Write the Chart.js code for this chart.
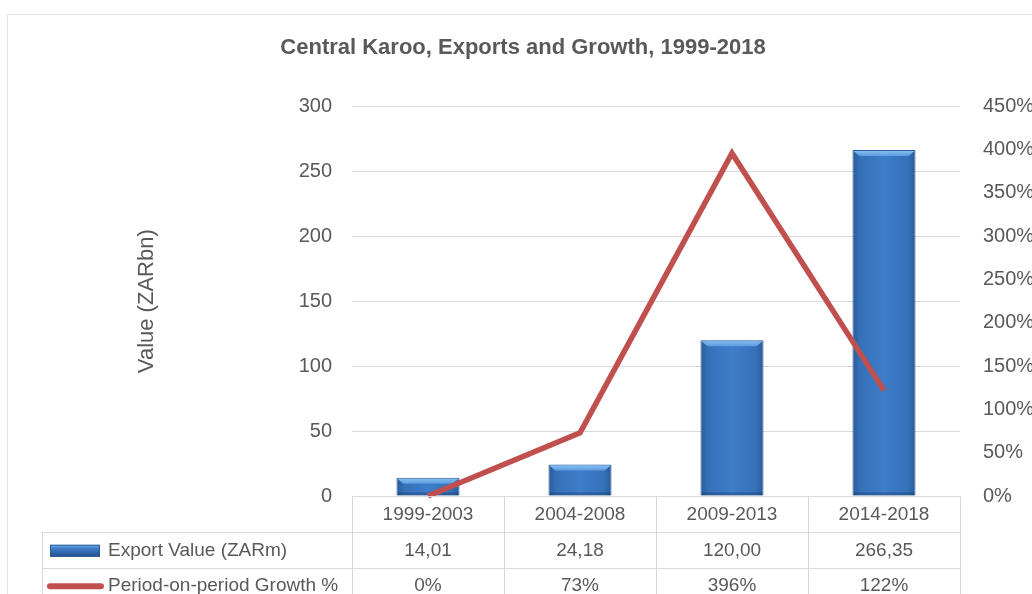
<!DOCTYPE html>
<html>
<head>
<meta charset="utf-8">
<script src="https://cdn.jsdelivr.net/npm/chart.js@4.4.1/dist/chart.umd.min.js"></script>
<style>
  html, body { margin: 0; padding: 0; background: #fff; }
  #wrap { width: 1032px; height: 594px; position: relative; }
</style>
</head>
<body>
<div id="wrap"><canvas id="chart"></canvas></div>
<script>
// chart data
const periods      = ['1999-2003', '2004-2008', '2009-2013', '2014-2018'];
const exportValues = [14.01, 24.18, 120.00, 266.35];
const growthPct    = [0, 73, 396, 122];
const seriesNames  = ['Export Value (ZARm)', 'Period-on-period Growth %'];

const FONT  = "'Liberation Sans', Arial, sans-serif";
const GREY  = '#595959';
const GRID  = '#d9d9d9';
const RED   = '#c0504d';

/* ----------------------------------------------------------
   Frame + data table under the plot (Excel style)
   ---------------------------------------------------------- */
const framePlugin = {
  id: 'frame',
  beforeDraw(chart) {
    const c = chart.ctx;
    c.save();
    c.fillStyle = '#fff';
    c.fillRect(0, 0, chart.width, chart.height);
    c.strokeStyle = '#e3e3e3';
    c.lineWidth = 1;
    c.beginPath();
    c.moveTo(7.5, chart.height);
    c.lineTo(7.5, 14.5);
    c.lineTo(chart.width, 14.5);
    c.stroke();
    c.restore();
  }
};

// horizontal shading + bevel on each bar, sized from the bar elements
function barGradient(c, bar) {
  const l = bar.x - bar.width / 2, r = bar.x + bar.width / 2;
  const g = c.createLinearGradient(l, 0, r, 0);
  g.addColorStop(0,    '#2a5a96');
  g.addColorStop(0.12, '#3571b8');
  g.addColorStop(0.5,  '#3e7dca');
  g.addColorStop(0.88, '#3571b8');
  g.addColorStop(1,    '#2a5a96');
  return g;
}

const barShadePlugin = {
  id: 'barShade',
  beforeDatasetDraw(chart, args) {
    if (args.meta.type !== 'bar') return;
    args.meta.data.forEach(bar => {
      bar.options.backgroundColor = barGradient(chart.ctx, bar);
    });
  },
  afterDatasetDraw(chart, args) {
    if (args.meta.type !== 'bar') return;
    const c = chart.ctx;
    c.save();
    args.meta.data.forEach(bar => {
      const l = bar.x - bar.width / 2, r = bar.x + bar.width / 2;
      const t = bar.y, b = bar.base;
      const bev = Math.min(6, (b - t) / 2);
      const g = c.createLinearGradient(0, t, 0, t + bev);
      g.addColorStop(0, '#8cc3f2');
      g.addColorStop(1, '#5a9be0');
      c.fillStyle = g;
      c.beginPath();
      c.moveTo(l + 1, t + 1);
      c.lineTo(r - 1, t + 1);
      c.lineTo(r - 1 - bev, t + bev);
      c.lineTo(l + 1 + bev, t + bev);
      c.closePath();
      c.fill();
      c.fillStyle = 'rgba(20,50,90,0.35)';
      c.fillRect(l + 1, b - 3, r - l - 2, 3);
    });
    c.restore();
  }
};

const tablePlugin = {
  id: 'dataTable',
  afterDraw(chart) {
    const c = chart.ctx;
    const x = chart.scales.x;
    const area = chart.chartArea;
    const rowH = 35.5;
    const top = area.bottom + 0.5;
    const tableLeft = 42.5;
    const half = (x.getPixelForValue(1) - x.getPixelForValue(0)) / 2;
    const bounds = periods.map((p, i) => Math.round(x.getPixelForValue(i) - half) + 0.5);
    bounds.push(Math.round(x.getPixelForValue(periods.length - 1) + half) + 0.5);

    c.save();
    c.strokeStyle = GRID;
    c.lineWidth = 1;
    c.beginPath();
    c.moveTo(bounds[0], top);
    c.lineTo(bounds[bounds.length - 1], top);
    for (let r = 1; r <= 3; r++) {
      const y = Math.round(top + r * rowH) + 0.5;
      c.moveTo(tableLeft, y);
      c.lineTo(bounds[bounds.length - 1], y);
    }
    bounds.forEach(bx => { c.moveTo(bx, top); c.lineTo(bx, chart.height); });
    c.moveTo(tableLeft, top + rowH);
    c.lineTo(tableLeft, chart.height);
    c.stroke();

    c.fillStyle = GREY;
    c.font = '19px ' + FONT;
    c.textAlign = 'center';
    c.textBaseline = 'middle';
    const rows = [
      periods,
      exportValues.map(v => v.toFixed(2).replace('.', ',')),
      growthPct.map(v => v + '%')
    ];
    rows.forEach((row, r) => {
      const cy = top + r * rowH + rowH / 2 + 1;
      row.forEach((txt, i) => c.fillText(txt, x.getPixelForValue(i), cy));
    });

    // legend keys in the row headers
    const y1 = top + rowH * 1.5 + 1;
    const y2 = top + rowH * 2.5 + 1;
    const g = c.createLinearGradient(0, y1 - 6, 0, y1 + 6);
    g.addColorStop(0, '#7fb6ea');
    g.addColorStop(0.3, '#3d7cc9');
    g.addColorStop(1, '#24508a');
    c.fillStyle = g;
    c.fillRect(50, y1 - 6, 50, 12);
    c.strokeStyle = '#2a5a96';
    c.strokeRect(50.5, y1 - 5.5, 49, 11);

    c.strokeStyle = RED;
    c.lineWidth = 6;
    c.lineCap = 'round';
    c.beginPath();
    c.moveTo(50, y2);
    c.lineTo(101, y2);
    c.stroke();

    c.fillStyle = GREY;
    c.textAlign = 'left';
    c.fillText(seriesNames[0], 108, y1);
    c.fillText(seriesNames[1], 108, y2);
    c.restore();
  }
};

new Chart(document.getElementById('chart'), {
  data: {
    labels: periods,
    datasets: [
      {
        type: 'line',
        label: seriesNames[1],
        data: growthPct,
        yAxisID: 'y1',
        borderColor: RED,
        borderWidth: 5.5,
        pointRadius: 0,
        tension: 0,
        clip: false,
        order: 0,
      },
      {
        type: 'bar',
        label: seriesNames[0],
        data: exportValues,
        yAxisID: 'y',
        // scriptable so every bar gets its own options object
        backgroundColor: () => '#3a76c0',
        borderColor: '#2b5d9b',
        borderWidth: 1,
        barPercentage: 0.415,
        categoryPercentage: 1,
        order: 1,
      },
    ],
  },
  options: {
    responsive: true,
    maintainAspectRatio: false,
    animation: false,
    layout: { padding: { left: 14, right: 0, top: 0, bottom: 98 } },
    plugins: {
      legend: { display: false },
      tooltip: { enabled: false },
      title: {
        display: true,
        text: 'Central Karoo, Exports and Growth, 1999-2018',
        color: GREY,
        font: { family: FONT, size: 22, weight: 'bold' },
        padding: { top: 35, bottom: 45 },
      },
    },
    scales: {
      x: { display: false },
      y: {
        position: 'left',
        min: 0, max: 300,
        ticks: { stepSize: 50, color: GREY, padding: 20, font: { family: FONT, size: 20 } },
        grid: { color: GRID, drawTicks: false },
        border: { display: false },
        title: {
          display: true,
          text: 'Value (ZARbn)',
          color: GREY,
          font: { family: FONT, size: 22 },
          padding: { top: 120, bottom: 0 },
        },
        afterFit(scale) { scale.width = 338; },
      },
      y1: {
        position: 'right',
        min: 0, max: 450,
        ticks: { stepSize: 50, color: GREY, padding: 23, font: { family: FONT, size: 20 },
                 callback: v => v + '%' },
        grid: { display: false, drawTicks: false },
        border: { display: false },
        afterFit(scale) { scale.width = 72; },
      },
    },
  },
  plugins: [framePlugin, barShadePlugin, tablePlugin],
});
</script>
</body>
</html>
